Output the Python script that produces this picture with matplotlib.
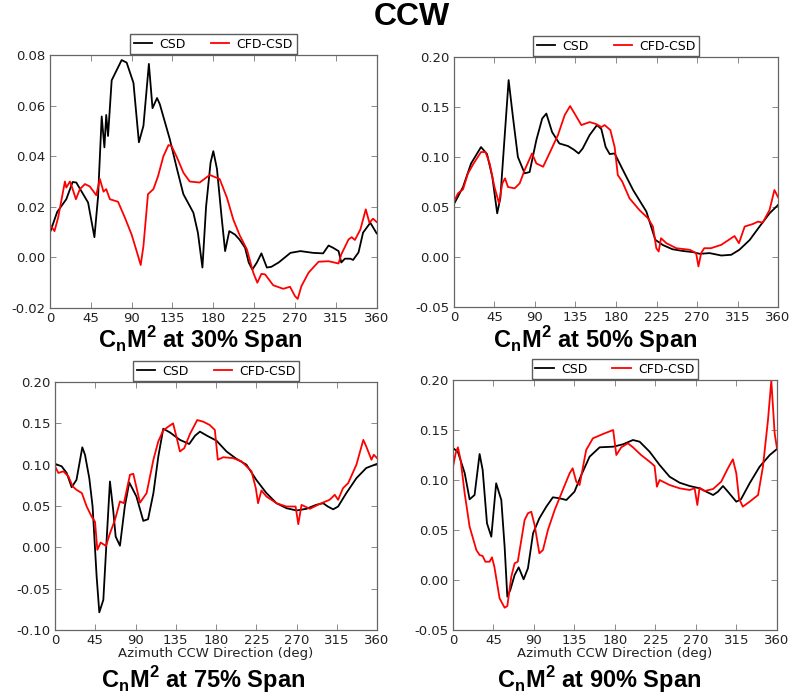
import numpy as np
import matplotlib
matplotlib.use('Agg')
import matplotlib.pyplot as plt

# ---- 30% span ----
az30_csd = [0, 8, 18, 25, 29, 42, 49, 53, 57, 60, 62, 64, 68, 79, 84.5, 92, 98, 103, 109, 113,
            118, 121, 132, 140, 147, 158, 163, 168, 172, 177, 180, 184, 189, 193, 197.6, 204, 209,
            215, 219, 223, 228, 233, 239, 244, 252, 265, 276, 290, 301, 307, 312, 318, 321, 325,
            331, 334, 340, 345, 353, 360]
cn30_csd = [0.0098, 0.018, 0.023, 0.0298, 0.0296, 0.0217, 0.008, 0.024, 0.0557, 0.0435, 0.0563,
            0.048, 0.070, 0.078, 0.077, 0.069, 0.0455, 0.052, 0.0765, 0.059, 0.063, 0.0606, 0.0468,
            0.0349, 0.025, 0.0177, 0.0098, -0.004, 0.020, 0.0375, 0.042, 0.035, 0.0164, 0.0025,
            0.0104, 0.009, 0.007, 0.0038, -0.002, -0.0048, -0.002, 0.0016, -0.004, -0.0037, -0.002,
            0.0018, 0.0025, 0.0018, 0.0016, 0.0047, 0.0038, 0.0025, -0.002, -0.0005, -0.0005,
            -0.001, 0.002, 0.0098, 0.0137, 0.0095]
az30_cfd = [0, 5, 9, 16.5, 18, 22, 25, 28.6, 33, 38.6, 44, 51, 55, 59, 62, 66, 75, 82.6, 90, 95.5,
            100, 103, 108, 114, 119, 125, 130.6, 134, 140, 147, 154, 165, 176, 187, 195, 202, 209,
            217, 224, 228.5, 233, 237, 246, 257, 264.5, 270, 273, 277, 285, 296, 307, 318, 321, 329,
            332.5, 336, 342, 348, 352, 356, 360]
cn30_cfd = [0.013, 0.0104, 0.0157, 0.030, 0.0276, 0.030, 0.027, 0.023, 0.027, 0.029, 0.028, 0.0246,
            0.031, 0.026, 0.027, 0.023, 0.022, 0.0157, 0.009, 0.0025, -0.003, 0.0045, 0.025, 0.027,
            0.032, 0.040, 0.0444, 0.044, 0.0395, 0.0335, 0.030, 0.0296, 0.0326, 0.031, 0.0236,
            0.015, 0.0088, 0.0032, -0.006, -0.010, -0.0065, -0.0067, -0.011, -0.0124, -0.0116,
            -0.0153, -0.0164, -0.0114, -0.006, -0.0017, -0.0015, -0.0024, 0.0012, 0.0071, 0.008,
            0.0069, 0.011, 0.019, 0.0137, 0.0153, 0.014]

# ---- 50% span ----
az50_csd = [0, 10, 19, 30, 36.7, 42.6, 48, 51.5, 56, 60.7, 65.5, 71, 78.5, 84, 91.5, 98, 102.6,
            109, 117, 126.7, 133, 138.5, 143, 150.7, 158.9, 163.7, 168.5, 173, 178.5, 187.7, 199,
            213.7, 219, 223.7, 232, 242.6, 254.4, 265.5, 273, 284, 297, 308, 317, 328.5, 339.5,
            350.6, 360]
cn50_csd = [0.053, 0.070, 0.0936, 0.110, 0.103, 0.080, 0.0437, 0.059, 0.117, 0.177, 0.140, 0.100,
            0.0837, 0.085, 0.117, 0.1385, 0.1435, 0.125, 0.1136, 0.111, 0.1075, 0.1036, 0.1086,
            0.122, 0.132, 0.128, 0.110, 0.103, 0.1036, 0.087, 0.067, 0.0455, 0.0305, 0.0172, 0.012,
            0.0078, 0.006, 0.0049, 0.0032, 0.0039, 0.0015, 0.0022, 0.0072, 0.017, 0.0305, 0.0437,
            0.052]
az50_cfd = [0, 4.4, 10, 15.5, 21.8, 30, 35, 39.6, 45, 50, 53.7, 56.7, 60, 67.4, 73, 78.5, 86.7,
            91.5, 99, 106, 115.5, 123, 129, 134, 141.5, 150.7, 158, 163.7, 167.4, 173.7, 178.5, 182,
            187, 195, 206, 215.5, 221, 224.8, 227.4, 230, 236, 247, 262, 269, 271.6, 274.6, 278,
            285.5, 297, 308, 311.7, 316.6, 323, 332, 337.8, 343, 350.6, 356, 360]
cn50_cfd = [0.0554, 0.0637, 0.0677, 0.0836, 0.0936, 0.105, 0.105, 0.0936, 0.070, 0.0537, 0.0737,
            0.0787, 0.070, 0.0687, 0.0737, 0.087, 0.1036, 0.0936, 0.0903, 0.1036, 0.122, 0.142,
            0.151, 0.1435, 0.132, 0.135, 0.133, 0.130, 0.132, 0.127, 0.110, 0.082, 0.0753, 0.0587,
            0.047, 0.0388, 0.0305, 0.0088, 0.0055, 0.0188, 0.0138, 0.0088, 0.0072, 0.0039, -0.0094,
            0.0039, 0.0088, 0.0088, 0.0122, 0.0188, 0.021, 0.0138, 0.0305, 0.033, 0.0354, 0.0344,
            0.047, 0.067, 0.060]

# ---- 75% span ----
az75_csd = [0, 7.4, 13, 18.6, 24, 30.5, 33.5, 38.3, 42, 46.5, 49.5, 54, 57.7, 61.4, 65, 67.8,
            72.6, 78, 83, 91, 98.7, 104, 110, 115.5, 121, 128.5, 139.7, 150, 156.5, 162, 170,
            180.6, 191.7, 202.9, 214, 225, 236.4, 247.6, 258.7, 270, 281, 292, 299.7, 305, 311,
            316.5, 325.7, 337, 348, 360]
cn75_csd = [0.101, 0.098, 0.090, 0.0727, 0.0817, 0.121, 0.112, 0.0837, 0.0494, -0.035, -0.0786,
            -0.0636, 0.009, 0.0797, 0.0454, 0.013, 0.002, 0.0494, 0.0785, 0.0615, 0.032, 0.034,
            0.0656, 0.110, 0.1435, 0.139, 0.130, 0.125, 0.135, 0.140, 0.135, 0.129, 0.116, 0.107,
            0.100, 0.0817, 0.0656, 0.0534, 0.0474, 0.0446, 0.0466, 0.0514, 0.0534, 0.0494, 0.046,
            0.0494, 0.0656, 0.0837, 0.096, 0.101]
az75_cfd = [0, 3.7, 9.3, 15, 19.7, 24, 30, 35.4, 41, 44.7, 47.3, 51, 57, 61.4, 67, 72.6, 77, 83.8,
            87.5, 95, 102.4, 110, 115.4, 121, 126.6, 132, 136.6, 139.6, 144.5, 150.8, 159, 165.7,
            173, 178.7, 182, 188, 199, 208.5, 219.7, 224.5, 227, 230.8, 236.4, 247.6, 258.7, 269,
            272, 275.6, 285, 296, 307, 312.8, 316.5, 322, 327.8, 337, 344.7, 348, 353.8, 356.4, 360]
cn75_cfd = [0.098, 0.090, 0.092, 0.0858, 0.0737, 0.0696, 0.0656, 0.0494, 0.037, 0.031, -0.003,
            0.0058, 0.0017, 0.017, 0.0332, 0.0555, 0.0534, 0.0878, 0.089, 0.054, 0.0656, 0.106,
            0.128, 0.1414, 0.146, 0.150, 0.130, 0.116, 0.120, 0.137, 0.154, 0.152, 0.148, 0.142,
            0.106, 0.109, 0.108, 0.104, 0.092, 0.0716, 0.0534, 0.0688, 0.0615, 0.0534, 0.0494,
            0.0494, 0.028, 0.0514, 0.0466, 0.0526, 0.0575, 0.0636, 0.0575, 0.0716, 0.0777, 0.100,
            0.130, 0.122, 0.106, 0.112, 0.108]

# ---- 90% span ----
az90_csd = [0, 5.5, 13, 18.5, 24, 29.6, 33, 37.8, 42.6, 48, 53.7, 57.4, 60.4, 63.7, 68.5, 73,
            78.5, 83.3, 89, 96, 103.7, 111, 118.5, 126, 135, 142.6, 151.8, 163, 178, 189, 200,
            207.4, 218.5, 229.6, 240.7, 251.8, 263, 274, 281.5, 289, 294.4, 300, 305.5, 314.8, 320,
            329.6, 340.7, 352, 360]
cn90_csd = [0.132, 0.128, 0.107, 0.0807, 0.085, 0.126, 0.110, 0.0567, 0.0433, 0.0967, 0.080,
            0.0333, -0.0167, -0.010, 0.005, 0.0127, 0.0007, 0.0117, 0.0467, 0.0617, 0.0733, 0.0827,
            0.0817, 0.080, 0.0883, 0.105, 0.1233, 0.1327, 0.1333, 0.1357, 0.140, 0.1383, 0.1283,
            0.115, 0.1033, 0.0973, 0.094, 0.0917, 0.0883, 0.085, 0.0883, 0.094, 0.0883, 0.0783,
            0.0807, 0.0967, 0.1133, 0.125, 0.131]
az90_cfd = [0, 3, 5.5, 8.5, 13, 18.5, 26, 29.6, 33, 36, 40.7, 43.3, 46, 51.8, 57.4, 60.4, 64.8,
            68.5, 72, 79.6, 83.3, 87, 90.7, 96, 100, 105.5, 113, 122, 129.6, 133, 137, 140.7, 148,
            155.5, 166.7, 178, 181.5, 187, 194.4, 200, 209, 218.5, 224, 226.6, 229.6, 240.7, 251.8,
            263, 268.5, 271.5, 274, 279.6, 289, 298, 305.5, 311, 314.8, 317.8, 322, 329.6, 339,
            344.4, 350, 353.7, 357.4, 360]
cn90_cfd = [0.113, 0.1267, 0.1327, 0.120, 0.0867, 0.0533, 0.030, 0.025, 0.024, 0.0183, 0.0183,
            0.0227, 0.0133, -0.0183, -0.0277, -0.026, 0.0033, 0.0167, 0.0183, 0.060, 0.0667,
            0.0683, 0.055, 0.0267, 0.030, 0.050, 0.070, 0.090, 0.1067, 0.1117, 0.0983, 0.095, 0.130,
            0.1417, 0.146, 0.150, 0.125, 0.1327, 0.1367, 0.1327, 0.125, 0.1183, 0.114, 0.0933,
            0.100, 0.095, 0.0917, 0.090, 0.0917, 0.075, 0.0923, 0.089, 0.091, 0.0983, 0.1117,
            0.1207, 0.1067, 0.0817, 0.0733, 0.0783, 0.085, 0.1133, 0.160, 0.1993, 0.1467, 0.1317]

titles = ['30%', '50%', '75%', '90%']
ylims = [(-0.02, 0.08), (-0.05, 0.20), (-0.10, 0.20), (-0.05, 0.20)]
xticks = [0, 45, 90, 135, 180, 225, 270, 315, 360]

rects = [[0.063, 0.5587, 0.412, 0.3625],
         [0.5725, 0.5602, 0.4086, 0.358],
         [0.0694, 0.0974, 0.406, 0.3553],
         [0.5712, 0.0974, 0.4086, 0.3582]]
sub_pos = [(0.252, 0.513), (0.751, 0.513), (0.256, 0.027), (0.755, 0.027)]

data = [(az30_csd, cn30_csd, az30_cfd, cn30_cfd),
        (az50_csd, cn50_csd, az50_cfd, cn50_cfd),
        (az75_csd, cn75_csd, az75_cfd, cn75_cfd),
        (az90_csd, cn90_csd, az90_cfd, cn90_cfd)]

fig = plt.figure(figsize=(7.93, 6.98), dpi=100)

for i, (xc, yc, xf, yf) in enumerate(data):
    ax = fig.add_axes(rects[i])
    ax.plot(xc, yc, color='black', lw=1.3, label='CSD')
    ax.plot(xf, yf, color='red', lw=1.3, label='CFD-CSD')
    ax.set_xlim(0, 360)
    ax.set_ylim(*ylims[i])
    ax.set_xticks(xticks)
    lo, hi = ylims[i]
    step = 0.02 if i == 0 else 0.05
    ax.set_yticks(np.arange(lo, hi + step / 2, step))
    ax.yaxis.set_major_formatter(matplotlib.ticker.FormatStrFormatter('%.2f'))
    ax.tick_params(direction='in', top=True, right=True, length=4, width=0.6,
                   color='#777777', labelsize=9.5, labelcolor='#222222', pad=3)
    for s in ax.spines.values():
        s.set_color('#666666')
        s.set_linewidth(0.9)
    leg = ax.legend(loc='lower center', bbox_to_anchor=(0.5, 1.0), ncol=2, fontsize=9,
                    frameon=True, fancybox=False, borderaxespad=0.05, handlelength=1.45,
                    columnspacing=2.0, borderpad=0.3, handletextpad=0.6)
    leg.get_frame().set_edgecolor('#333333')
    leg.get_frame().set_linewidth(1.0)
    if i >= 2:
        ax.set_xlabel('Azimuth CCW Direction (deg)', fontsize=9.5, color='#222222', labelpad=0)
    fig.text(sub_pos[i][0], sub_pos[i][1],
             r'C$_\mathregular{n}$M$^\mathregular{2}$ at ' + titles[i] + ' Span',
             ha='center', va='center', fontsize=17, fontweight='bold',
             family='Liberation Sans')

fig.text(0.52, 0.975, 'CCW', ha='center', va='center', fontsize=23, fontweight='bold',
         family='Liberation Sans')

fig.savefig('out.png', dpi=100)
